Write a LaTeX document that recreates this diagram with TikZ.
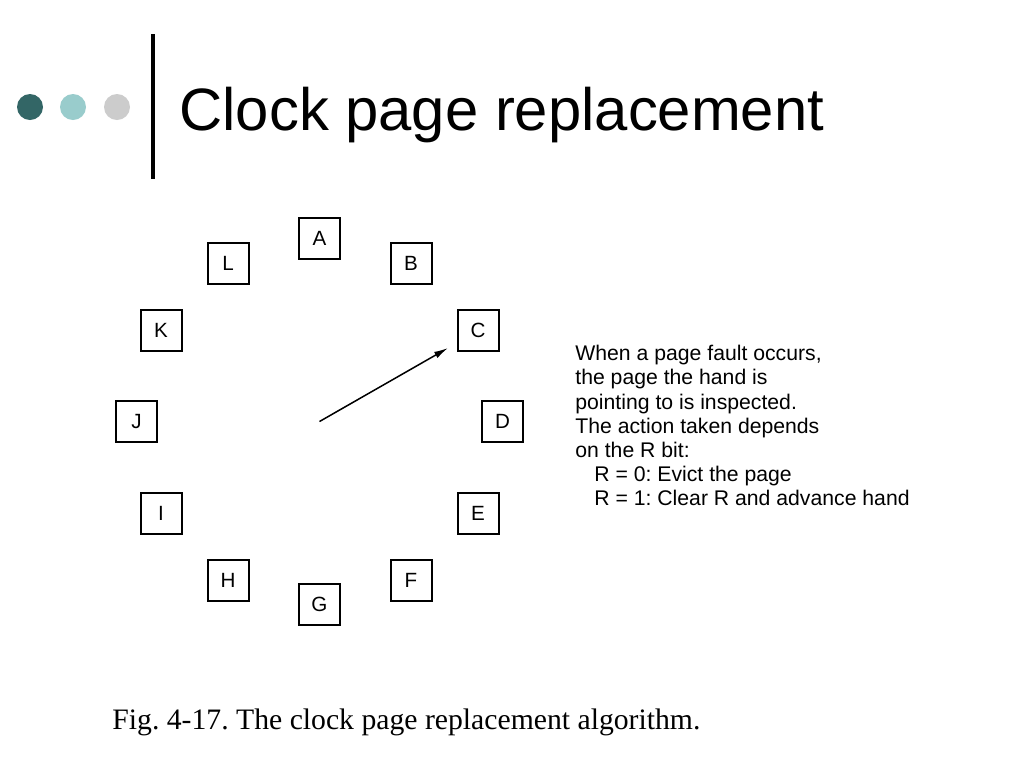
\documentclass[tikz,border=0pt]{standalone}
\usepackage{fontspec}
\usetikzlibrary{arrows.meta}
\setmainfont{Liberation Sans}
\newfontfamily\captionfont{Liberation Serif}
\definecolor{dotdark}{HTML}{336666}
\definecolor{dotlight}{HTML}{99CCCC}
\definecolor{dotgrey}{HTML}{CCCCCC}
\frenchspacing

\begin{document}
\begin{tikzpicture}[x=0.5pt,y=-0.5pt]
      \useasboundingbox[fill=white] (0,0) rectangle (1024,768);
      % title bar
      \fill[dotdark] (30,107) circle (6.5pt);
      \fill[dotlight] (73,107) circle (6.5pt);
      \fill[dotgrey] (117,107) circle (6.5pt);
      \draw[line width=2pt] (153,34) -- (153,179);
      \node[anchor=base west,inner sep=0,font=\fontsize{29.9}{36}\selectfont] (title) at (179,130) {Clock page replacement};
      % clock face
      \coordinate (hub) at (319.5,421.5);
      \begin{scope}[every node/.style={rectangle,draw,line width=1pt,minimum size=20.5pt,inner sep=0,font=\fontsize{10.3}{12}\selectfont}]
        \node (A) at (319.5,238.5) {A};
        \node (B) at (411,263) {B};
        \node (C) at (478,330) {C};
        \node (D) at (502.5,421.5) {D};
        \node (E) at (478,513) {E};
        \node (F) at (411,580) {F};
        \node (G) at (319.5,604.5) {G};
        \node (H) at (228,580) {H};
        \node (I) at (161,513) {I};
        \node (J) at (136.5,421.5) {J};
        \node (K) at (161,330) {K};
        \node (L) at (228,263) {L};
      \end{scope}
      \coordinate (tip) at (448,348);
      \draw[line width=0.75pt,-{Latex[length=7pt,width=3.5pt]}] (hub) -- (tip);
      % explanation
      \node[anchor=north west,inner sep=0,align=left,font=\fontsize{10.6}{12.1}\selectfont] (rule) at (575,345)
        {When a page fault occurs,\\the page the hand is\\pointing to is inspected.\\The action taken depends\\on the R bit:\\
         \hspace*{9.5pt}R = 0: Evict the page\\\hspace*{9.5pt}R = 1: Clear R and advance hand};
      \node[anchor=base west,inner sep=0,font=\captionfont\fontsize{14.85}{17}\selectfont] (caption) at (112,729) {Fig. 4-17. The clock page replacement algorithm.};
    \end{tikzpicture}
\end{document}
